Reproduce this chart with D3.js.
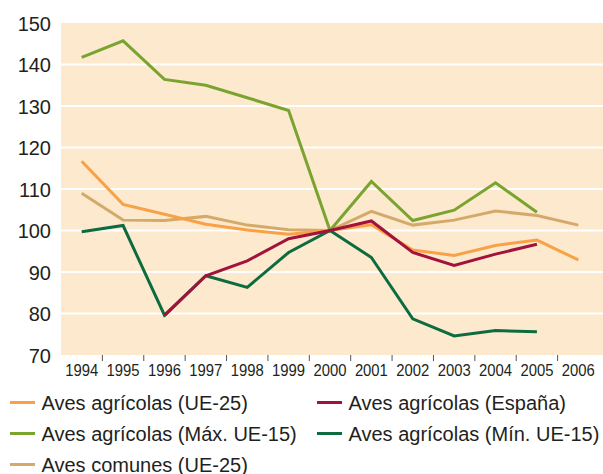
<!DOCTYPE html>
<html>
<head>
<meta charset="utf-8">
<script src="https://cdn.jsdelivr.net/npm/d3@7"></script>
<style>
  body { margin: 0; background: #fff; }
  svg text { font-family: "Liberation Sans", Arial, sans-serif; fill: #231f20; }
</style>
</head>
<body>
<svg id="chart" width="603" height="474"></svg>
<script>
var years = ["1994", "1995", "1996", "1997", "1998", "1999", "2000", "2001", "2002", "2003", "2004", "2005", "2006"];
var yTicks = [70, 80, 90, 100, 110, 120, 130, 140, 150];

var agricolasUE25 = [116.7, 106.3, 103.9, 101.5, 100.1, 99.1, 100, 101.4, 95.3, 94.0, 96.4, 97.7, 92.9];
var agricolasEspana = [null, null, 79.5, 89.1, 92.7, 98.0, 100, 102.3, 94.7, 91.6, 94.3, 96.7, null];
var agricolasMax = [141.7, 145.7, 136.4, 135.0, 132.0, 128.9, 100, 111.8, 102.4, 104.9, 111.5, 104.4, null];
var agricolasMin = [99.7, 101.2, 79.6, 89.1, 86.3, 94.7, 100, 93.5, 78.7, 74.6, 75.9, 75.6, null];
var comunesUE25 = [109.0, 102.5, 102.4, 103.4, 101.3, 100.2, 100, 104.6, 101.3, 102.5, 104.7, 103.6, 101.3];

var series = [
	{ name: "Aves comunes (UE-25)", values: comunesUE25, colour: "#d4aa6b" },
	{ name: "Aves agrícolas (UE-25)", values: agricolasUE25, colour: "#f8a146" },
	{ name: "Aves agrícolas (Máx. UE-15)", values: agricolasMax, colour: "#79a430" },
	{ name: "Aves agrícolas (Mín. UE-15)", values: agricolasMin, colour: "#0d6c3f" },
	{ name: "Aves agrícolas (España)", values: agricolasEspana, colour: "#a3123c" }
];

var legendOrder = [1, 4, 2, 3, 0];

var svg = d3.select("#chart");
var plotLeft = 61, plotRight = 603, plotTop = 23, plotBottom = 355;

var x = d3.scaleBand().domain(years).range([plotLeft, 599]);
var y = d3.scaleLinear().domain([70, 150]).range([plotBottom, plotTop]);

svg.append("rect")
	.attr("x", plotLeft).attr("y", plotTop)
	.attr("width", plotRight - plotLeft).attr("height", plotBottom - plotTop)
	.attr("fill", "#fde9cd");

svg.append("g").selectAll("line")
	.data(yTicks.slice(1, -1))
	.enter()
  .append("line")
	.attr("x1", plotLeft).attr("x2", plotRight)
	.attr("y1", function (d) { return y(d); })
	.attr("y2", function (d) { return y(d); })
	.attr("stroke", "#fff")
	.attr("stroke-width", 2);

svg.append("g").selectAll("text")
	.data(yTicks)
	.enter()
  .append("text")
	.attr("x", 51)
	.attr("y", function (d) { return y(d) + 7.5; })
	.attr("text-anchor", "end")
	.style("font-size", "20px")
	.text(function (d) { return d; });

svg.append("g").selectAll("line")
	.data(years.slice(1))
	.enter()
  .append("line")
	.attr("x1", function (d) { return x(d); })
	.attr("x2", function (d) { return x(d); })
	.attr("y1", plotBottom).attr("y2", plotBottom + 6)
	.attr("stroke", "#555")
	.attr("stroke-width", 1);

svg.append("g").selectAll("text")
	.data(years)
	.enter()
  .append("text")
	.attr("x", function (d) { return x(d) + x.bandwidth() / 2; })
	.attr("y", 376)
	.attr("text-anchor", "middle")
	.attr("textLength", 33)
	.attr("lengthAdjust", "spacingAndGlyphs")
	.style("font-size", "17px")
	.text(function (d) { return d; });

var line = d3.line()
	.defined(function (d) { return d != null; })
	.x(function (d, i) { return x(years[i]) + x.bandwidth() / 2; })
	.y(function (d) { return y(d); });

svg.append("g").selectAll("path")
	.data(series)
	.enter()
  .append("path")
	.attr("d", function (d) { return line(d.values); })
	.attr("fill", "none")
	.attr("stroke", function (d) { return d.colour; })
	.attr("stroke-width", 3)
	.attr("stroke-linejoin", "miter");

var legend = svg.append("g").selectAll("g")
	.data(legendOrder)
	.enter()
  .append("g")
	.attr("transform", function (d, i) {
		return "translate(" + (i % 2 === 0 ? 10 : 317) + "," + (402.5 + Math.floor(i / 2) * 31) + ")";
	});

legend.append("line")
	.attr("x1", 0).attr("x2", 25)
	.attr("y1", 0).attr("y2", 0)
	.attr("stroke", function (d) { return series[d].colour; })
	.attr("stroke-width", 3);

legend.append("text")
	.attr("x", 31.5)
	.attr("y", 7.5)
	.style("font-size", "20px")
	.text(function (d) { return series[d].name; });
</script>
</body>
</html>
